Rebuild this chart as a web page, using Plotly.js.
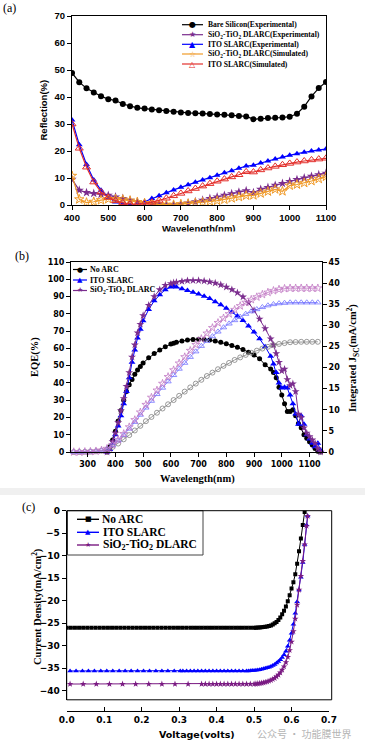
<!DOCTYPE html>
<html><head><meta charset="utf-8">
<script src="https://cdn.plot.ly/plotly-3.0.1.min.js"></script>
<style>html,body{margin:0;padding:0;background:#fff}#chart{width:365px;height:744px}</style>
</head><body><div id="chart"></div>
<script>
// ---------- Panel (a): reflection ----------
const wlA = [400,420,440,460,480,500,520,540,560,580,600,620,640,660,680,700,720,740,760,780,800,820,840,860,880,900,920,940,960,980,1000,1020,1040,1060,1080,1100];
const refBare = [48.9,45.5,43.2,41.7,40.3,39.2,38.7,37.4,36.6,36.0,35.7,35.4,35.1,34.8,34.5,34.3,34.1,34.0,33.9,33.7,33.5,33.4,33.2,33.0,32.8,31.8,31.9,32.2,32.3,32.4,32.7,33.8,36.4,40.2,43.3,45.6];
const refDlarcExp = [9.5,5.5,4.6,4.3,4.0,3.6,3.0,2.4,1.8,1.2,0.7,0.4,0.2,0.1,0.1,0.3,0.7,1.2,1.8,2.4,3.0,3.6,4.2,4.8,5.3,4.6,5.8,6.5,7.3,8.0,8.7,9.4,10.0,10.6,11.2,11.8];
const refItoExp = [31.5,22.3,15.0,9.3,5.5,2.8,1.1,0.3,0.0,0.2,1.2,2.4,3.4,4.5,5.6,6.6,7.5,8.4,9.3,10.1,11.0,11.9,12.7,13.6,14.4,14.7,15.6,16.3,17.0,17.8,18.4,19.0,19.5,20.0,20.4,20.7];
const refDlarcSim = [10.8,2.1,0.9,1.2,1.8,2.2,2.2,2.0,1.6,1.1,0.7,0.4,0.2,0.1,0.1,0.3,0.5,0.8,1.0,1.3,1.6,2.0,2.5,3.0,3.5,3.6,4.3,5.0,5.8,5.1,7.2,7.6,8.2,8.9,9.7,10.5];
const refItoSim = [30.0,21.0,14.0,8.5,4.8,2.8,1.6,0.8,0.4,0.3,0.5,1.0,1.7,2.5,3.4,4.3,5.2,6.1,7.0,7.9,8.8,9.6,10.4,11.2,12.3,12.2,13.0,13.7,14.3,14.9,15.4,15.9,16.3,16.7,17.0,17.3];
const namesA = ['Bare Silicon(Experimental)','SiO<sub>2</sub>-TiO<sub>2</sub> DLARC(Experimental)','ITO SLARC(Experimental)','SiO<sub>2</sub>-TiO<sub>2</sub> DLARC(Simulated)','ITO SLARC(Simulated)'];
const ticksA_x = [400,500,600,700,800,900,1000,1100];
const ticksA_y = [0,10,20,30,40,50,60,70];

// ---------- Panel (b): EQE and integrated Jsc ----------
const wlE = [370,380,390,400,410,420,430,440,450,460,470,480,490,500,520,540,560,580,600,610,620,640,660,680,700,720,740,760,780,800,820,840,860,880,900,920,940,960,970,980,990,1000,1010,1020,1030,1040,1050,1060,1070,1080,1090,1100,1110,1120,1130,1140];
const eqeNoArc = [0,3,7,12,18,24,30,35,39,42,45,47.5,49.5,51.5,54.5,57,59,61,62.5,63,63.5,64.3,64.8,65.2,65.3,65.2,64.8,64.2,63.5,62.6,61.7,60.6,59.3,57.8,56.2,54,50.5,48,46,43,37.5,33,28,23.5,23.5,24.5,21,16.5,14,10,8,6,4,2,0.5,0];
const eqeIto = [0,1.5,5,10,15,21,28,35,43,52,59,66,71,76,82.5,87.5,91,94,95.5,96,95.5,94.5,93.5,92.5,91.5,90.2,88.8,87,85.2,83.2,81,78.8,76.2,73,69.5,65.5,61,55.5,51,46,40,37,37.5,37,33,28,22,16,21,16,10,7.5,5,3,5,1];
const eqeDlarc = [0,2,6,11,17,24,31,38,46,55,62,69,74,79,85,90,94,96.5,97.5,98,98.3,98.8,99.2,99.3,99.3,99,98.5,97.8,96.8,95.5,94,92.2,89.8,86.5,82,77,71.5,65.5,62,57,52,47,48,42,38.5,39.5,35,22,20,14,11,9,7,5,2,0];
const wlJ = [250,270,290,310,330,350,370,390,410,430,450,470,490,510,530,550,570,590,610,630,650,670,690,710,730,750,770,790,810,830,850,870,890,910,930,950,970,990,1010,1030,1050,1070,1090,1110,1130];
const jscNoArc = [0,0,0.05,0.1,0.15,0.3,0.6,1.2,2.0,3.0,4.0,5.1,6.2,7.3,8.3,9.3,10.3,11.3,12.3,13.3,14.3,15.3,16.2,17.1,18.0,18.8,19.6,20.4,21.1,21.8,22.4,23.0,23.5,24.0,24.5,24.9,25.3,25.6,25.8,26.0,26.05,26.1,26.1,26.1,26.1];
const jscIto = [0,0,0.05,0.1,0.2,0.4,0.8,1.6,2.7,4.0,5.5,7.1,8.8,10.5,12.1,13.7,15.2,16.7,18.2,19.7,21.1,22.5,23.8,25.1,26.3,27.4,28.5,29.5,30.4,31.2,32.0,32.7,33.3,33.8,34.3,34.7,35.0,35.2,35.3,35.4,35.4,35.4,35.4,35.4,35.4];
const jscDlarc = [0,0,0.05,0.1,0.2,0.4,0.8,1.7,2.9,4.3,5.9,7.6,9.4,11.2,12.9,14.6,16.2,17.8,19.4,21.0,22.5,24.0,25.4,26.8,28.1,29.4,30.6,31.7,32.7,33.7,34.6,35.4,36.1,36.7,37.3,37.8,38.2,38.5,38.7,38.8,38.8,38.8,38.8,38.8,38.8];
const namesB = ['No ARC','ITO SLARC','SiO<sub>2</sub>-TiO<sub>2</sub> DLARC'];
const ticksB_x = [300,400,500,600,700,800,900,1000,1100];
const ticksB_y = [0,10,20,30,40,50,60,70,80,90,100,110];
const ticksB_y2 = [0,5,10,15,20,25,30,35,40,45];

// ---------- Panel (c): J-V ----------
const vNoArc = [0,0.011,0.022,0.033,0.044,0.055,0.066,0.077,0.088,0.099,0.110,0.121,0.132,0.143,0.154,0.165,0.176,0.187,0.198,0.209,0.220,0.231,0.242,0.253,0.264,0.275,0.286,0.297,0.308,0.319,0.330,
  0.34,0.35,0.36,0.37,0.38,0.39,0.40,0.41,0.42,0.43,0.44,0.45,0.46,0.47,0.48,0.49,0.50,
  0.505,0.51,0.515,0.52,0.525,0.53,0.535,0.54,0.545,0.55,0.555,0.56,0.565,0.57,0.575,0.58,0.585,0.59,0.595,0.60,0.605,0.61,0.615,0.62,0.625,0.63,0.635];
const jNoArc = [-26,-26,-26,-26,-26,-26,-26,-26,-26,-26,-26,-26,-26,-26,-26,-26,-26,-26,-26,-26,-26,-26,-26,-26,-26,-26,-26,-26,-26,-26,-26,
  -26,-26,-26,-26,-26,-26,-26,-26,-26,-26,-26,-26,-26,-26,-26,-26,-26,
  -25.98,-25.95,-25.92,-25.88,-25.83,-25.77,-25.7,-25.6,-25.5,-25.3,-25.0,-24.7,-24.3,-23.7,-23.0,-22.2,-21.3,-20.1,-18.8,-17.3,-15.9,-14.1,-11.8,-9.0,-6.2,-3.2,-0.3];
const vIto = [0.009,0.025,0.042,0.058,0.074,0.091,0.107,0.123,0.140,0.156,0.172,0.189,0.205,0.221,0.238,0.254,0.270,0.287,0.303,
  0.31,0.32,0.33,0.34,0.35,0.36,0.37,0.38,0.39,0.40,0.41,0.42,0.43,0.44,0.45,0.46,0.47,0.48,
  0.485,0.49,0.495,0.50,0.505,0.51,0.515,0.52,0.525,0.53,0.535,0.54,0.545,0.55,0.555,0.56,0.565,0.57,0.575,0.58,0.585,0.59,0.595,0.60,0.605,0.61,0.615,0.62,0.625,0.63,0.635,0.64,0.643];
const jIto = [-35.6,-35.6,-35.6,-35.6,-35.6,-35.6,-35.6,-35.6,-35.6,-35.6,-35.6,-35.6,-35.6,-35.6,-35.6,-35.6,-35.6,-35.6,-35.6,
  -35.6,-35.6,-35.6,-35.6,-35.6,-35.6,-35.6,-35.6,-35.6,-35.6,-35.6,-35.6,-35.6,-35.6,-35.6,-35.6,-35.6,-35.6,
  -35.58,-35.55,-35.52,-35.48,-35.43,-35.37,-35.3,-35.22,-35.13,-35.02,-34.9,-34.75,-34.58,-34.38,-34.15,-33.85,-33.5,-33.1,-32.6,-32.0,-31.2,-30.1,-28.8,-27.2,-25.2,-22.8,-20.2,-17.6,-14.8,-11.5,-7.5,-3.2,-1.2];
const vDlarc = [0.009,0.044,0.079,0.114,0.149,0.184,0.219,0.254,0.289,0.324,
  0.36,0.37,0.38,0.39,0.40,0.41,0.42,0.43,0.44,0.45,0.46,0.47,0.48,0.49,0.50,
  0.505,0.51,0.515,0.52,0.525,0.53,0.535,0.54,0.545,0.55,0.555,0.56,0.565,0.57,0.575,0.58,0.585,0.59,0.595,0.60,0.605,0.61,0.615,0.62,0.625,0.63,0.635,0.64,0.643];
const jDlarc = [-38.5,-38.5,-38.5,-38.5,-38.5,-38.5,-38.5,-38.5,-38.5,-38.5,
  -38.5,-38.5,-38.5,-38.5,-38.5,-38.5,-38.5,-38.5,-38.5,-38.5,-38.5,-38.5,-38.5,-38.5,-38.5,
  -38.45,-38.4,-38.35,-38.28,-38.2,-38.1,-37.98,-37.83,-37.65,-37.43,-37.17,-36.85,-36.45,-35.95,-35.35,-34.6,-33.7,-32.5,-31.0,-29.1,-26.8,-24.0,-20.9,-17.6,-14.5,-11.2,-7.5,-3.4,-1.2];
const namesC = ['No ARC','ITO SLARC','SiO<sub>2</sub>-TiO<sub>2</sub> DLARC'];
const ticksC_x = [0,0.1,0.2,0.3,0.4,0.5,0.6,0.7];
const ticksC_y = [0,-5,-10,-15,-20,-25,-30,-35,-40];

// ---------- helpers ----------
const W = 365, H = 744;
const px = x => x / W;
const py = y => 1 - y / H;
const SERIF = 'Liberation Serif, Times New Roman, serif';
const ARIAL = 'Liberation Sans, Arial, sans-serif';
const VERD = 'DejaVu Sans, Verdana, sans-serif';

const cBlack = '#000000', cPurple = '#7b2d8e', cBlue = '#0000ff', cOrange = '#f09a28', cRed = '#e3302c';
const cLBlue = '#7474ff', cLPurple = '#c27ac4', cGray = '#808080', cPurpleC = '#7a1a82';

const traces = [
  // (a)
  {x: wlA, y: refBare, xaxis:'x', yaxis:'y', mode:'lines+markers', line:{color:cBlack,width:1.2}, marker:{symbol:'circle',size:6,color:cBlack}},
  {x: wlA, y: refDlarcExp, xaxis:'x', yaxis:'y', mode:'lines+markers', line:{color:cPurple,width:1.2}, marker:{symbol:'star',size:7,color:cPurple}},
  {x: wlA, y: refItoExp, xaxis:'x', yaxis:'y', mode:'lines+markers', line:{color:cBlue,width:1.2}, marker:{symbol:'triangle-up',size:6,color:cBlue}},
  {x: wlA, y: refDlarcSim, xaxis:'x', yaxis:'y', mode:'lines+markers', line:{color:cOrange,width:1.2}, marker:{symbol:'star-open',size:7,color:cOrange,line:{width:1}}},
  {x: wlA, y: refItoSim, xaxis:'x', yaxis:'y', mode:'lines+markers', line:{color:cRed,width:1.2}, marker:{symbol:'triangle-up-open',size:7,color:cRed,line:{width:1}}},
  // (b) integrated
  {x: wlJ, y: jscNoArc, xaxis:'x2', yaxis:'y3', mode:'lines+markers', line:{color:cGray,width:0.8}, marker:{symbol:'circle-open',size:5,color:cGray,line:{width:0.8}}, cliponaxis:false},
  {x: wlJ, y: jscIto, xaxis:'x2', yaxis:'y3', mode:'lines+markers', line:{color:cLBlue,width:0.8}, marker:{symbol:'triangle-up-open',size:5.5,color:cLBlue,line:{width:0.8}}, cliponaxis:false},
  {x: wlJ, y: jscDlarc, xaxis:'x2', yaxis:'y3', mode:'lines+markers', line:{color:cLPurple,width:0.8}, marker:{symbol:'star-open',size:6,color:cLPurple,line:{width:0.8}}, cliponaxis:false},
  // (b) EQE
  {x: wlE, y: eqeNoArc, xaxis:'x2', yaxis:'y2', mode:'lines+markers', line:{color:cBlack,width:1}, marker:{symbol:'circle',size:5,color:cBlack}, cliponaxis:false},
  {x: wlE, y: eqeIto, xaxis:'x2', yaxis:'y2', mode:'lines+markers', line:{color:cBlue,width:1}, marker:{symbol:'triangle-up',size:6,color:cBlue}, cliponaxis:false},
  {x: wlE, y: eqeDlarc, xaxis:'x2', yaxis:'y2', mode:'lines+markers', line:{color:cPurple,width:1}, marker:{symbol:'star',size:6,color:cPurple}, cliponaxis:false},
  // (c)
  {x: vNoArc, y: jNoArc, xaxis:'x3', yaxis:'y4', mode:'lines+markers', line:{color:cBlack,width:1}, marker:{symbol:'square',size:4,color:cBlack}},
  {x: vIto, y: jIto, xaxis:'x3', yaxis:'y4', mode:'lines+markers', line:{color:cBlue,width:1}, marker:{symbol:'triangle-up',size:5,color:cBlue}},
  {x: vDlarc, y: jDlarc, xaxis:'x3', yaxis:'y4', mode:'lines+markers', line:{color:cPurpleC,width:1}, marker:{symbol:'star',size:5,color:cPurpleC}}
];

const shapes = [];
const annotations = [];

function ann(x, y, text, o) {
  o = o || {};
  annotations.push(Object.assign({xref:'paper', yref:'paper', x:px(x), y:py(y), text:text, showarrow:false,
    xanchor:'center', yanchor:'middle', font:{family:SERIF, size:10, color:'#000', weight:'bold'}}, o));
}

function legend(items, cfg) {
  items.forEach((it, i) => {
    const y = cfg.rows[i];
    shapes.push({type:'line', xref:'paper', yref:'paper', x0:px(cfg.x0), x1:px(cfg.x1), y0:py(y), y1:py(y), line:{color:it.color, width:cfg.lw}});
    ann((cfg.x0 + cfg.x1) / 2, y + (cfg.gdy || 0), it.glyph, {font:{family:'DejaVu Sans', size:cfg.gs, color:it.color}});
    ann(cfg.xt, y, it.name, {xanchor:'left', font:{family:SERIF, size:cfg.fs, color:'#000', weight:'bold'}});
  });
}

// Legend (a)
legend([
  {name:namesA[0], color:cBlack, glyph:'●'},
  {name:namesA[1], color:cPurple, glyph:'★'},
  {name:namesA[2], color:cBlue, glyph:'▲'},
  {name:namesA[3], color:cOrange, glyph:'☆'},
  {name:namesA[4], color:cRed, glyph:'△'}
], {rows:[24.7,34.7,44.3,54,64], x0:182, x1:203, xt:206, fs:7.6, gs:8, lw:1.2});

// Legend (b)
legend([
  {name:namesB[0], color:cBlack, glyph:'●'},
  {name:namesB[1], color:cBlue, glyph:'▲'},
  {name:namesB[2], color:cPurple, glyph:'★'}
], {rows:[269.5,280,290.5], x0:73, x1:87, xt:87.5, fs:8, gs:7, lw:1.2});

// Legend (c) with box
shapes.push({type:'rect', xref:'paper', yref:'paper', x0:px(67.5), x1:px(203), y0:py(555), y1:py(510.7), line:{color:'#444', width:1}, fillcolor:'rgba(255,255,255,1)'});
legend([
  {name:namesC[0], color:cBlack, glyph:'■'},
  {name:namesC[1], color:cBlue, glyph:'▲'},
  {name:namesC[2], color:cPurpleC, glyph:'★'}
], {rows:[519.3,532.3,545], x0:77, x1:99, xt:100.5, fs:11.5, gs:7, lw:1.4});

// Frame of panel (c)
shapes.push({type:'rect', xref:'paper', yref:'paper', x0:px(66.7), x1:px(331.7), y0:py(699.8), y1:py(510.7), line:{color:'#000', width:1}});
// light band at top of panel (c)
shapes.push({type:'rect', xref:'paper', yref:'paper', x0:0, x1:1, y0:py(495), y1:py(488), line:{width:0}, fillcolor:'#f0f0f0', layer:'below'});

// Titles
ann(43, 110.5, 'Reflection(%)', {textangle:-90, font:{family:ARIAL, size:9.5, color:'#000', weight:'bold'}});
ann(199, 221, 'Wavelength(nm)', {yanchor:'top', font:{family:ARIAL, size:9.5, color:'#000', weight:'bold'}});
// cover the cut-off lower part of (a) x title, as in the source image
annotations.push({xref:'paper', yref:'paper', x:0, y:py(231), xanchor:'left', yanchor:'top', text:' ', showarrow:false, width:W, height:9, bgcolor:'#ffffff', borderpad:0});

ann(35, 357, 'EQE(%)', {textangle:-90, font:{family:SERIF, size:10.5, color:'#000', weight:'bold'}});
ann(353, 358, 'Integrated J<sub>SC</sub>(mA/cm<sup>2</sup>)', {textangle:-90, font:{family:SERIF, size:10.5, color:'#000', weight:'bold'}});
ann(197, 479, 'Wavelength(nm)', {font:{family:SERIF, size:10.5, color:'#000', weight:'bold'}});

ann(37, 607, 'Current Density(mA/cm<sup>2</sup>)', {textangle:-90, font:{family:SERIF, size:10.5, color:'#000', weight:'bold'}});
ann(197, 734, 'Voltage(volts)', {font:{family:VERD, size:9.5, color:'#000', weight:'bold'}});

// Panel labels
ann(9, 8, '(a)', {font:{family:SERIF, size:12, color:'#000'}});
ann(22, 256, '(b)', {font:{family:SERIF, size:12, color:'#000'}});
ann(28, 507, '(c)', {font:{family:SERIF, size:12, color:'#000'}});

// Watermark
ann(304, 733, '公众号 · 功能膜世界', {font:{family:'Noto Sans CJK SC', size:10, color:'#b4b4b4'}, borderpad:0});

const axBase = {showgrid:false, zeroline:false, showline:true, linecolor:'#000', linewidth:1, ticks:'outside', ticklen:4, tickwidth:1, tickcolor:'#000'};

const layout = {
  width: W, height: H,
  margin: {l:0, r:0, t:0, b:0},
  paper_bgcolor:'#ffffff', plot_bgcolor:'rgba(0,0,0,0)',
  showlegend:false,
  xaxis: Object.assign({}, axBase, {domain:[px(72), px(326)], range:[400,1100], anchor:'y', tickvals:ticksA_x, mirror:true,
    tickfont:{family:ARIAL, size:9.5, color:'#000', weight:'bold'}}),
  yaxis: Object.assign({}, axBase, {domain:[py(205), py(16)], range:[0,70], anchor:'x', tickvals:ticksA_y, mirror:true,
    tickfont:{family:ARIAL, size:9.5, color:'#000', weight:'bold'}}),
  xaxis2: Object.assign({}, axBase, {domain:[px(71), px(322)], range:[240,1145], anchor:'y2', tickvals:ticksB_x, mirror:true,
    tickfont:{family:VERD, size:8, color:'#000', weight:'bold'}}),
  yaxis2: Object.assign({}, axBase, {domain:[py(452), py(262)], range:[0,110], anchor:'x2', tickvals:ticksB_y,
    tickfont:{family:VERD, size:8, color:'#000', weight:'bold'}}),
  yaxis3: Object.assign({}, axBase, {overlaying:'y2', side:'right', range:[0,45], anchor:'x2', tickvals:ticksB_y2,
    tickfont:{family:VERD, size:8, color:'#000', weight:'bold'}}),
  xaxis3: Object.assign({}, axBase, {domain:[px(66.7), px(329)], range:[0,0.7], anchor:'free', position:py(711), tickvals:ticksC_x, tickformat:'.1f', ticks:'inside',
    tickfont:{family:VERD, size:9, color:'#000', weight:'bold'}}),
  yaxis4: Object.assign({}, axBase, {domain:[py(699.8), py(510.7)], range:[-42,0], anchor:'x3', tickvals:ticksC_y,
    tickfont:{family:VERD, size:9, color:'#000', weight:'bold'}}),
  shapes: shapes,
  annotations: annotations
};

Plotly.newPlot('chart', traces, layout, {displayModeBar:false, staticPlot:true});
</script></body></html>
